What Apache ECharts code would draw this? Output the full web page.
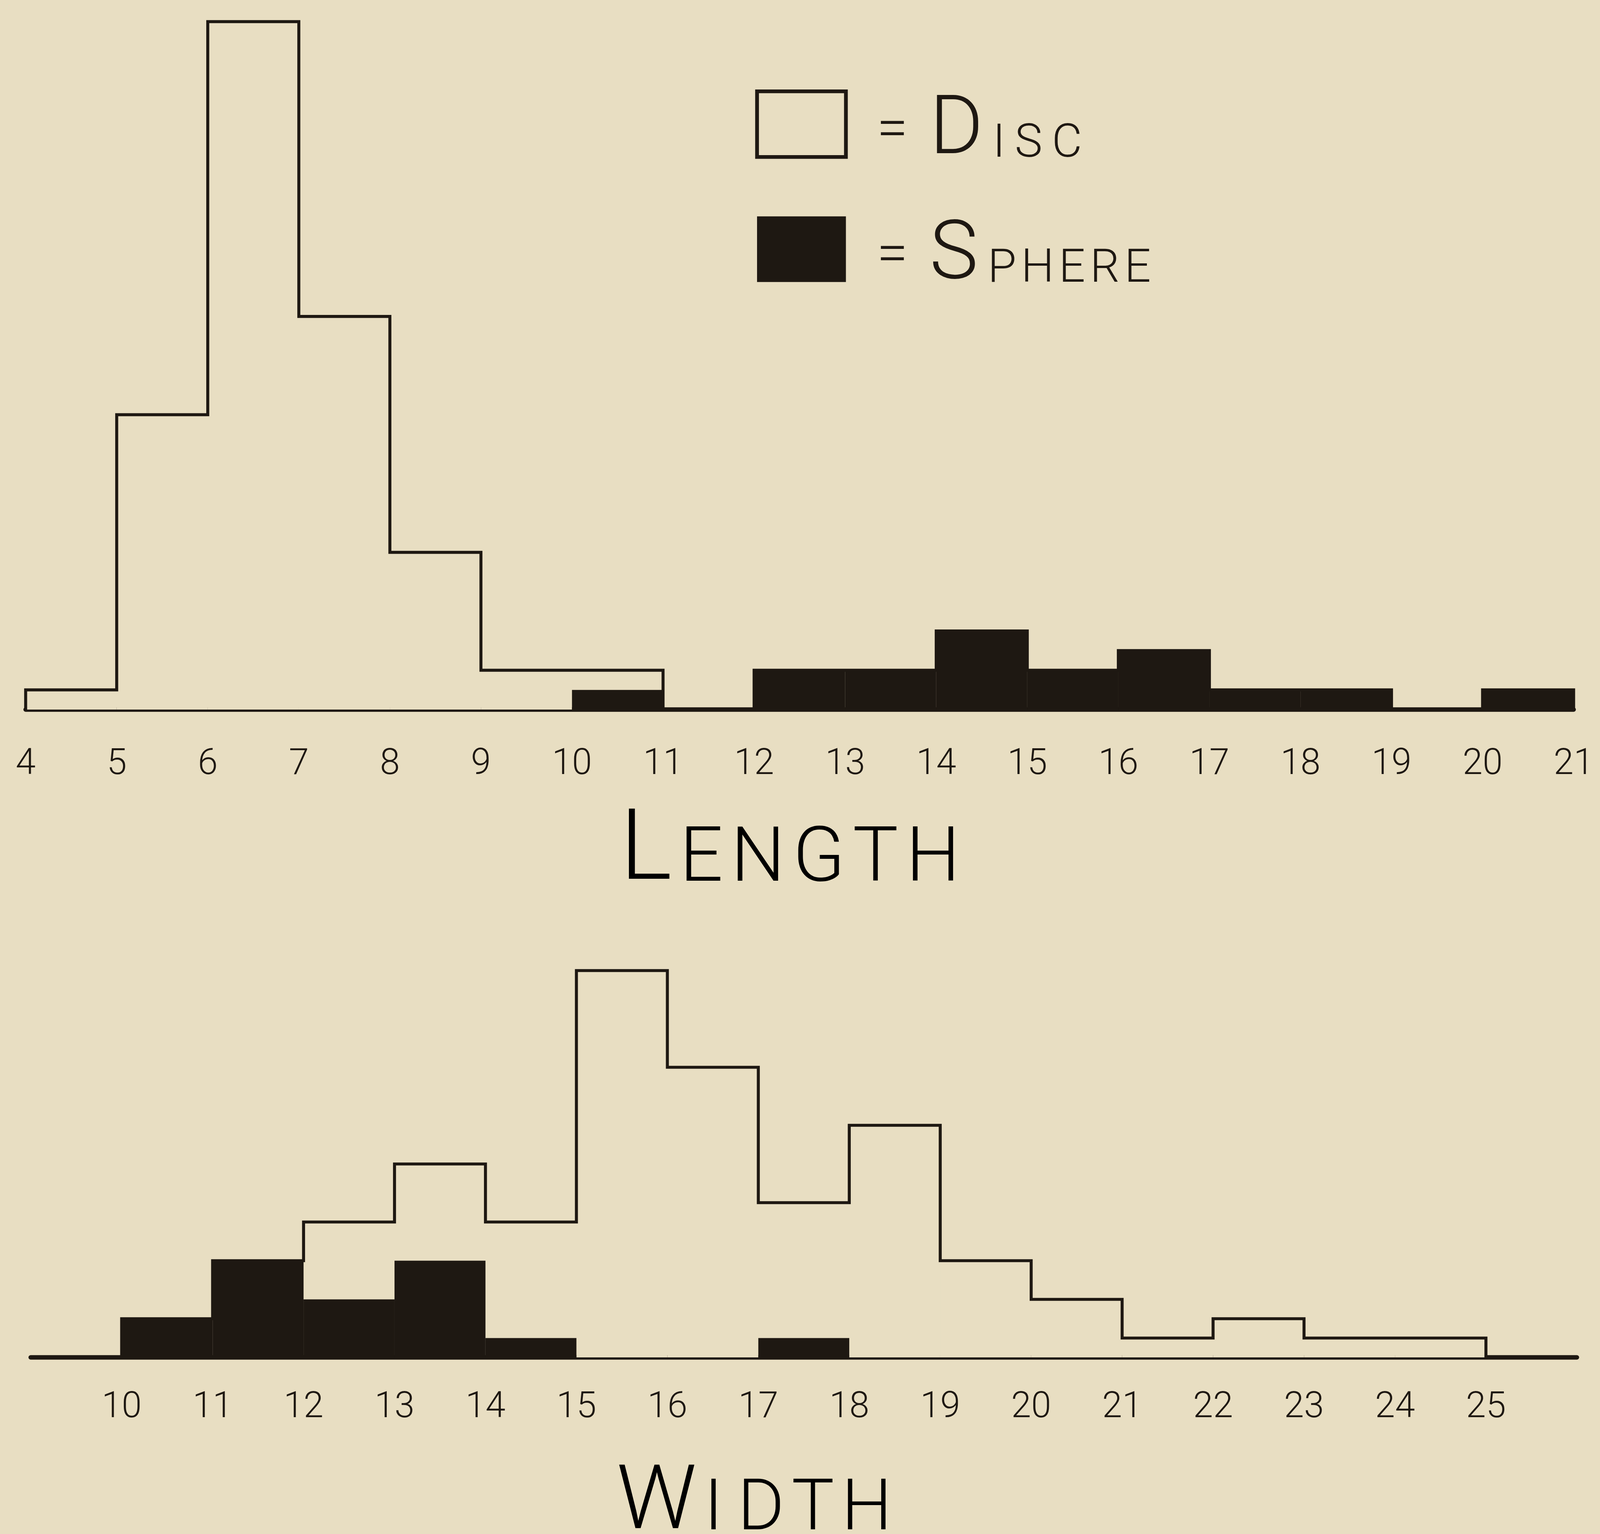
<!DOCTYPE html>
<html>
<head>
<meta charset="utf-8">
<script src="https://cdn.jsdelivr.net/npm/echarts@6/dist/echarts.min.js"></script>
<style>
  html, body { margin: 0; padding: 0; background: #E8DEC2; overflow: hidden; }
  #chart { width: 100vw; height: 100vh; }
</style>
</head>
<body>
<div id="chart"></div>
<script>
// ---- data (counts per unit bin) ----
const lengthBins   = [4, 5, 6, 7, 8, 9, 10, 11, 12, 13, 14, 15, 16, 17, 18, 19, 20];
const lengthDisc   = [1, 15, 35, 20, 8, 2, 1, 0, 0, 0, 0, 0, 0, 0, 0, 0, 0];
const lengthSphere = [0, 0, 0, 0, 0, 0, 1, 0, 2, 2, 4, 2, 3, 1, 1, 0, 1];
const lengthTicks  = [4, 5, 6, 7, 8, 9, 10, 11, 12, 13, 14, 15, 16, 17, 18, 19, 20, 21];

const widthBins   = [10, 11, 12, 13, 14, 15, 16, 17, 18, 19, 20, 21, 22, 23, 24];
const widthSphere = [2, 5, 3, 5, 1, 0, 0, 1, 0, 0, 0, 0, 0, 0, 0];
const widthDisc   = [0, 0, 4, 5, 6, 20, 15, 7, 12, 5, 3, 1, 2, 1, 1];
const widthTicks  = [10, 11, 12, 13, 14, 15, 16, 17, 18, 19, 20, 21, 22, 23, 24, 25];

const BG = '#E8DEC2';
const INK = '#1E1812';
const FONT = 'Roboto, "DejaVu Sans", sans-serif';
const HAIR = '\u200a', THIN = '\u2009';

// layout was measured on a 4429 x 3926 page; scale to the real viewport
const el = document.getElementById('chart');
const VW = el.clientWidth || 4429;
const VH = el.clientHeight || 3926;
const sx = VW / 4429, sy = VH / 3926, fs = Math.sqrt(sx * sy);
const X = v => v * sx, Y = v => v * sy, F = v => v * fs;

function sphereRects(bins, sphere) {
  return bins.map((b, i) => [b, b + 1, 0, sphere[i]]);
}
function discRects(bins, disc, sphere) {
  return bins.map((b, i) => [b, b + 1, sphere[i], sphere[i] + disc[i]]);
}
function outline(bins, disc, sphere) {
  const pts = [[bins[0], 0]];
  bins.forEach((b, i) => pts.push([b, disc[i] + sphere[i]]));
  pts.push([bins[bins.length - 1] + 1, 0]);
  return pts;
}
function rectRenderer(fill) {
  return function (params, api) {
    const p0 = api.coord([api.value(0), api.value(2)]);
    const p1 = api.coord([api.value(1), api.value(3)]);
    return {
      type: 'rect',
      shape: { x: p0[0], y: p1[1], width: p1[0] - p0[0], height: p0[1] - p1[1] },
      style: { fill: fill }
    };
  };
}
function xAxisFor(gridIndex, min, max, ticks, margin) {
  return {
    type: 'value', gridIndex: gridIndex, min: min, max: max, interval: 1,
    axisLine: { show: true, onZero: true, lineStyle: { color: INK, width: F(12) } },
    axisTick: { show: false },
    splitLine: { show: false },
    axisLabel: {
      margin: Y(margin), fontSize: F(96), fontFamily: FONT, fontWeight: 300, color: INK,
      showMinLabel: true, showMaxLabel: true,
      formatter: v => (ticks.indexOf(v) >= 0 ? String(v) : '')
    }
  };
}

const chart = echarts.init(el, null, { renderer: 'canvas' });

function capsRich(big, small, lift) {
  return {
    a: { fontSize: F(big), lineHeight: F(big), fontFamily: FONT, fontWeight: 300, color: INK, verticalAlign: 'bottom' },
    b: { fontSize: F(small), lineHeight: F(small), fontFamily: FONT, fontWeight: 300, color: INK, verticalAlign: 'bottom', padding: [0, 0, F(lift), 0] }
  };
}

chart.setOption({
  backgroundColor: BG,
  animation: false,
  grid: [
    { left: X(71), right: X(73), top: Y(5), bottom: Y(2110) },
    { left: X(85), right: X(64), top: Y(2385), bottom: Y(452) }
  ],
  xAxis: [
    xAxisFor(0, 4, 21, lengthTicks, 96),
    xAxisFor(1, 9, 26, widthTicks, 84)
  ],
  yAxis: [
    { type: 'value', gridIndex: 0, min: 0, max: 36, show: false },
    { type: 'value', gridIndex: 1, min: 0, max: 22, show: false }
  ],
  legend: {
    orient: 'vertical', left: X(2085), top: Y(224), itemGap: Y(109),
    itemWidth: X(246), itemHeight: Y(168), icon: 'rect',
    data: [
      { name: 'Disc', itemStyle: { color: BG, borderColor: INK, borderWidth: F(10) } },
      { name: 'Sphere', itemStyle: { color: INK, borderColor: INK, borderWidth: 0 } }
    ],
    formatter: name => name === 'Disc'
      ? '{eq|=}{big|D}{sm|' + THIN + 'I' + THIN + 'S' + THIN + 'C}'
      : '{eq|=}{big|S}{sm|' + THIN + 'P' + HAIR + 'H' + HAIR + 'E' + HAIR + 'R' + HAIR + 'E}',
    textStyle: {
      color: INK, fontFamily: FONT, fontWeight: 300,
      padding: [Y(44), 0, 0, 0],
      rich: {
        eq: { fontSize: F(150), lineHeight: F(150), fontFamily: FONT, fontWeight: 300, color: INK, padding: [0, X(60), 0, X(80)] },
        big: { fontSize: F(218), lineHeight: F(218), fontFamily: FONT, fontWeight: 300, color: INK, verticalAlign: 'bottom' },
        sm: { fontSize: F(124), lineHeight: F(124), fontFamily: FONT, fontWeight: 300, color: INK, verticalAlign: 'bottom', padding: [0, 0, F(14), 0] }
      }
    }
  },
  graphic: [
    {
      type: 'text', x: X(2187), y: Y(2312),
      style: {
        text: '{a|L}{b|' + HAIR + ['E', 'N', 'G', 'T', 'H'].join(HAIR) + '}',
        rich: capsRich(262, 203, 10), align: 'center', verticalAlign: 'bottom'
      }
    },
    {
      type: 'text', x: X(2088), y: Y(3968),
      style: {
        text: '{a|W}{b|' + HAIR + 'I' + THIN + 'D' + HAIR + 'T' + HAIR + 'H}',
        rich: capsRich(238, 190, 8), align: 'center', verticalAlign: 'bottom'
      }
    }
  ],
  series: [
    {
      name: 'Disc', type: 'custom', xAxisIndex: 0, yAxisIndex: 0,
      itemStyle: { color: BG }, encode: { x: [0, 1], y: [2, 3] },
      renderItem: rectRenderer(BG), data: discRects(lengthBins, lengthDisc, lengthSphere), z: 2
    },
    {
      name: 'Sphere', type: 'custom', xAxisIndex: 0, yAxisIndex: 0,
      itemStyle: { color: INK }, encode: { x: [0, 1], y: [2, 3] },
      renderItem: rectRenderer(INK), data: sphereRects(lengthBins, lengthSphere), z: 3
    },
    {
      name: 'Length outline', type: 'line', xAxisIndex: 0, yAxisIndex: 0, step: 'end',
      symbol: 'none', clip: false, lineStyle: { color: INK, width: F(8), join: 'miter' },
      data: outline(lengthBins, lengthDisc, lengthSphere), z: 4
    },
    {
      name: 'Disc', type: 'custom', xAxisIndex: 1, yAxisIndex: 1,
      itemStyle: { color: BG }, encode: { x: [0, 1], y: [2, 3] },
      renderItem: rectRenderer(BG), data: discRects(widthBins, widthDisc, widthSphere), z: 2
    },
    {
      name: 'Sphere', type: 'custom', xAxisIndex: 1, yAxisIndex: 1,
      itemStyle: { color: INK }, encode: { x: [0, 1], y: [2, 3] },
      renderItem: rectRenderer(INK), data: sphereRects(widthBins, widthSphere), z: 3
    },
    {
      name: 'Width outline', type: 'line', xAxisIndex: 1, yAxisIndex: 1, step: 'end',
      symbol: 'none', clip: false, lineStyle: { color: INK, width: F(8), join: 'miter' },
      data: outline(widthBins, widthDisc, widthSphere), z: 4
    }
  ]
});
</script>
</body>
</html>
